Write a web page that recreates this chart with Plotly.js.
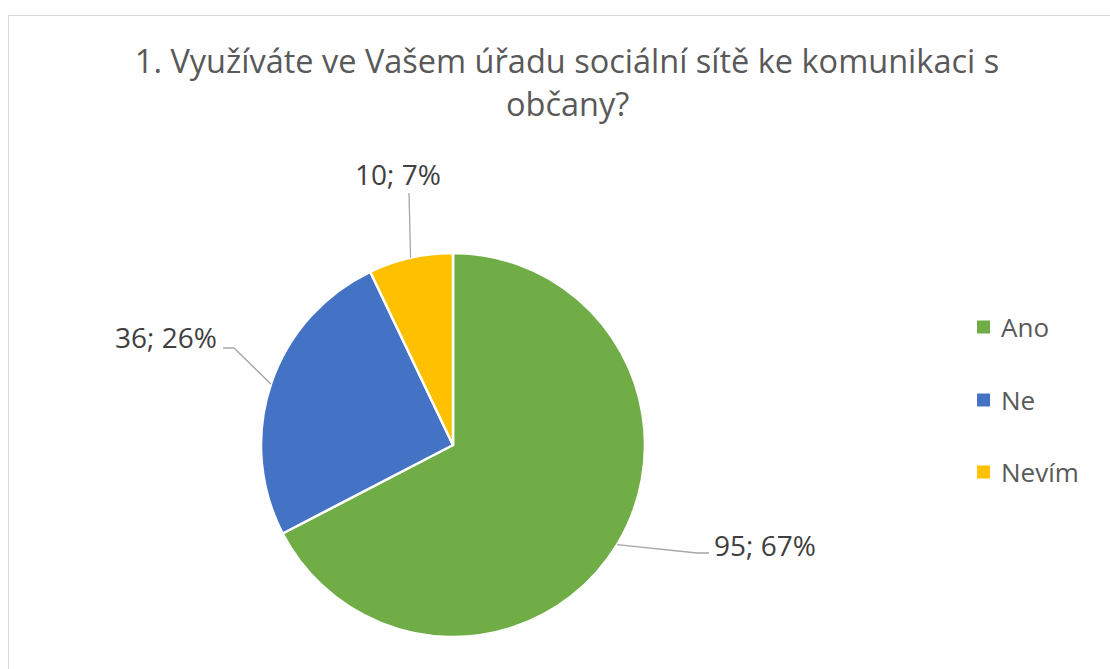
<!DOCTYPE html>
<html>
<head>
<meta charset="utf-8">
<script src="https://cdn.plot.ly/plotly-3.0.1.min.js"></script>
<style>html,body{margin:0;padding:0;background:#fff;}#chart{width:1110px;height:669px;}</style>
</head>
<body>
<div id="chart"></div>
<script>
// ---- data ----
var categories = ["Ano", "Ne", "Nevím"];
var counts = [95, 36, 10];
var colors = ["#70AD47", "#4472C4", "#FFC000"];
var titleLines = ["1. Využíváte ve Vašem úřadu sociální sítě ke komunikaci s", "občany?"];

// ---- layout constants (pixels) ----
var W = 1110, H = 669;
var cx = 453, cy = 445, r = 192;
var FONT = "Open Sans, sans-serif";
function px(x){ return x / W; }
function py(y){ return 1 - y / H; }

// label placement (layout only): text anchor point, elbow and end of leader line
var labelPos = [
  {tx: 712, ty: 545, xa: "left",   elbow: [697, 553], end: [709, 553]},
  {tx: 219, ty: 337, xa: "right",  elbow: [234, 348], end: [223, 348]},
  {tx: 398, ty: 174, xa: "center", elbow: [409, 193], end: [409, 193]}
];

var total = counts.reduce(function(a,b){return a+b;}, 0);

var trace = {
  type: "pie",
  labels: categories,
  values: counts,
  sort: false,
  direction: "clockwise",
  rotation: 0,
  marker: {colors: colors, line: {color: "#ffffff", width: 2.5}},
  textinfo: "none",
  hoverinfo: "label+value+percent",
  showlegend: false,
  domain: {x: [px(cx - r), px(cx + r)], y: [py(cy + r), py(cy - r)]}
};

var annotations = [];
var shapes = [];

// frame
shapes.push({type: "rect", xref: "paper", yref: "paper",
  x0: px(8.5), x1: 1.2, y0: -0.2, y1: py(15.5),
  line: {color: "#d9d9d9", width: 1}, fillcolor: "rgba(0,0,0,0)", layer: "below"});

// data labels with leader lines computed from slice mid-angles
var cum = 0;
for (var i = 0; i < counts.length; i++) {
  var frac = counts[i] / total;
  var mid = (cum + frac / 2) * 2 * Math.PI;
  cum += frac;
  var ex = cx + r * Math.sin(mid), ey = cy - r * Math.cos(mid);
  var lp = labelPos[i];
  shapes.push({type: "path", xref: "paper", yref: "paper",
    path: "M " + px(ex) + "," + py(ey) + " L " + px(lp.elbow[0]) + "," + py(lp.elbow[1]) +
          " L " + px(lp.end[0]) + "," + py(lp.end[1]),
    line: {color: "#a6a6a6", width: 1.3}});
  annotations.push({xref: "paper", yref: "paper", x: px(lp.tx), y: py(lp.ty),
    xanchor: lp.xa, yanchor: "middle", showarrow: false,
    text: counts[i] + "; " + Math.round(frac * 100) + "%",
    font: {family: FONT, size: 28, color: "#404040"}});
}

// legend (custom, to match spacing)
var legendY = [327, 400, 472];
for (var j = 0; j < categories.length; j++) {
  shapes.push({type: "rect", xref: "paper", yref: "paper",
    x0: px(977), x1: px(990), y0: py(legendY[j] + 6.5), y1: py(legendY[j] - 6.5),
    fillcolor: colors[j], line: {width: 0}});
  annotations.push({xref: "paper", yref: "paper", x: px(999), y: py(legendY[j]),
    xanchor: "left", yanchor: "middle", showarrow: false, text: categories[j],
    font: {family: FONT, size: 26, color: "#595959"}});
}

// second title line
annotations.push({xref: "paper", yref: "paper", x: px(567), y: py(104),
  xanchor: "center", yanchor: "middle", showarrow: false, text: titleLines[1],
  font: {family: FONT, size: 32.5, color: "#595959"}});

var layout = {
  width: W, height: H,
  margin: {l: 0, r: 0, t: 0, b: 0},
  paper_bgcolor: "#ffffff",
  title: {text: titleLines[0], x: px(567), xanchor: "center", y: py(62), yanchor: "middle",
    font: {family: FONT, size: 32.5, color: "#595959"}},
  showlegend: false,
  annotations: annotations,
  shapes: shapes
};

Plotly.newPlot("chart", [trace], layout, {displayModeBar: false, staticPlot: true});
</script>
</body>
</html>
